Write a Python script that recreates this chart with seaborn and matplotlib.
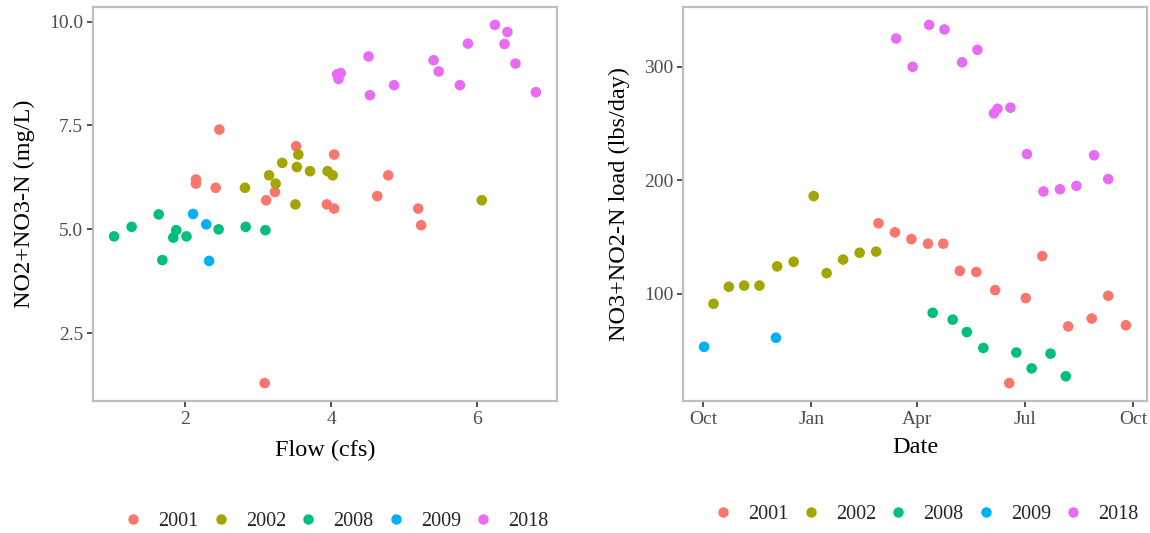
import matplotlib
matplotlib.use("Agg")
import matplotlib.pyplot as plt
import matplotlib.dates as mdates
from matplotlib.lines import Line2D
import numpy as np
import pandas as pd
import seaborn as sns

# ---- concentration vs flow -------------------------------------------------
flow_2001 = [2.47, 3.52, 4.04, 2.15, 2.15, 2.42, 3.23, 3.11, 3.94, 4.04, 3.09, 4.78, 4.63, 5.19, 5.23]
conc_2001 = [7.40, 7.00, 6.80, 6.20, 6.10, 6.00, 5.90, 5.70, 5.60, 5.50, 1.30, 6.30, 5.80, 5.50, 5.10]
flow_2002 = [3.55, 3.33, 3.53, 3.15, 3.71, 3.95, 4.02, 3.24, 2.82, 3.51, 6.06]
conc_2002 = [6.80, 6.60, 6.50, 6.30, 6.40, 6.40, 6.30, 6.10, 6.00, 5.60, 5.70]
flow_2008 = [1.64, 1.27, 1.03, 1.88, 1.84, 2.02, 1.69, 2.46, 2.83, 3.10]
conc_2008 = [5.36, 5.06, 4.83, 4.98, 4.80, 4.83, 4.26, 5.00, 5.06, 4.98]
flow_2009 = [2.11, 2.29, 2.33]
conc_2009 = [5.37, 5.12, 4.24]
flow_2018 = [4.08, 4.13, 4.10, 4.51, 4.53, 4.86, 5.40, 5.47, 5.76, 5.87, 6.24, 6.41, 6.37, 6.52, 6.80]
conc_2018 = [8.73, 8.76, 8.62, 9.16, 8.23, 8.47, 9.07, 8.80, 8.47, 9.47, 9.92, 9.75, 9.46, 8.99, 8.30]

# ---- load through the water year (month-day) ------------------------------
md_2001 = ["02-27", "03-13", "03-27", "04-10", "04-23", "05-07", "05-21", "06-06", "06-18",
           "07-02", "07-16", "08-07", "08-27", "09-10", "09-25"]
load_2001 = [162, 154, 148, 144, 144, 120, 119, 103, 21, 96, 133, 71, 78, 98, 72]
md_2002 = ["10-10", "10-23", "11-05", "11-18", "12-03", "12-17", "01-03", "01-14", "01-28",
           "02-11", "02-25"]
load_2002 = [91, 106, 107, 107, 124, 128, 186, 118, 130, 136, 137]
md_2008 = ["04-14", "05-01", "05-13", "05-27", "06-24", "07-07", "07-23", "08-05"]
load_2008 = [83, 77, 66, 52, 48, 34, 47, 27]
md_2009 = ["10-02", "12-02"]
load_2009 = [53, 61]
md_2018 = ["03-14", "03-28", "04-11", "04-24", "05-09", "05-22", "06-05", "06-08", "06-19",
           "07-03", "07-17", "07-31", "08-14", "08-29", "09-10"]
load_2018 = [325, 300, 337, 333, 304, 315, 259, 263, 264, 223, 190, 192, 195, 222, 201]

years = ["2001", "2002", "2008", "2009", "2018"]
colors = ["#F8766D", "#A3A500", "#00BF7D", "#00B0F6", "#E76BF3"]
palette = dict(zip(years, colors))

flows = [flow_2001, flow_2002, flow_2008, flow_2009, flow_2018]
concs = [conc_2001, conc_2002, conc_2008, conc_2009, conc_2018]
mds = [md_2001, md_2002, md_2008, md_2009, md_2018]
loads = [load_2001, load_2002, load_2008, load_2009, load_2018]

conc_df = pd.concat(
    [pd.DataFrame({"flow": f, "conc": c, "year": y}) for f, c, y in zip(flows, concs, years)],
    ignore_index=True)


def water_year_date(md):
    # place every sample on a common Oct-Sep water year axis
    month = int(md[:2])
    return pd.Timestamp(f"{2000 if month >= 10 else 2001}-{md}")


load_df = pd.concat(
    [pd.DataFrame({"date": [water_year_date(m) for m in d], "load": l, "year": y})
     for d, l, y in zip(mds, loads, years)],
    ignore_index=True)

sns.set_theme(style="white")
plt.rcParams["font.family"] = ["Liberation Serif", "DejaVu Serif"]

fig = plt.figure(figsize=(11.5, 5.33), dpi=100)
ax1 = fig.add_axes([93 / 1150, 1 - 401 / 533, 464 / 1150, 394 / 533])
ax2 = fig.add_axes([683 / 1150, 1 - 401 / 533, 464 / 1150, 394 / 533])

marker_kw = dict(s=58, linewidth=0, legend=False)
sns.scatterplot(data=conc_df, x="flow", y="conc", hue="year", hue_order=years,
                palette=palette, ax=ax1, **marker_kw)
sns.scatterplot(data=load_df, x="date", y="load", hue="year", hue_order=years,
                palette=palette, ax=ax2, **marker_kw)


def pad_limits(lo, hi, frac=0.05):
    r = hi - lo
    return lo - frac * r, hi + frac * r


ax1.set_xlim(*pad_limits(conc_df["flow"].min(), conc_df["flow"].max()))
ax1.set_ylim(*pad_limits(conc_df["conc"].min(), conc_df["conc"].max()))
ax1.set_xticks([2, 4, 6])
ax1.set_yticks([2.5, 5.0, 7.5, 10.0])
ax1.yaxis.set_major_formatter(matplotlib.ticker.FormatStrFormatter("%.1f"))

dnum = mdates.date2num(load_df["date"])
ax2.set_xlim(*pad_limits(dnum.min(), dnum.max()))
ax2.set_ylim(*pad_limits(load_df["load"].min(), load_df["load"].max()))
ax2.set_yticks([100, 200, 300])
tick_dates = pd.to_datetime(["2000-10-01", "2001-01-01", "2001-04-01", "2001-07-01", "2001-10-01"])
ax2.set_xticks(mdates.date2num(tick_dates))
ax2.xaxis.set_major_formatter(mdates.DateFormatter("%b"))

label_kw = dict(fontsize=17.5, color="black")
ax1.set_xlabel("Flow (cfs)", labelpad=9, **label_kw)
ax1.set_ylabel("NO2+NO3-N (mg/L)", labelpad=10, **label_kw)
ax2.set_xlabel("Date", labelpad=7, **label_kw)
ax2.set_ylabel("NO3+NO2-N load (lbs/day)", labelpad=10, **label_kw)

for ax in (ax1, ax2):
    ax.grid(False)
    for sp in ax.spines.values():
        sp.set_color("#BEBEBE")
        sp.set_linewidth(1.6)
    ax.tick_params(axis="both", which="major", direction="out", length=4, width=1.2,
                   color="#333333", labelcolor="#4D4D4D", labelsize=14, pad=3,
                   bottom=True, left=True)


def year_handles():
    return [Line2D([0], [0], marker="o", linestyle="", markersize=7.5,
                   markerfacecolor=c, markeredgewidth=0) for c in colors]


legend_kw = dict(ncol=5, frameon=False, fontsize=14.5, handletextpad=0.75,
                 columnspacing=0.6, handlelength=1.0, loc="center")
fig.legend(year_handles(), years, bbox_to_anchor=(336 / 1150, 1 - 521 / 533), **legend_kw)
fig.legend(year_handles(), years, bbox_to_anchor=(926 / 1150, 1 - 514 / 533), **legend_kw)

fig.savefig("out.png", dpi=100, facecolor="white")
